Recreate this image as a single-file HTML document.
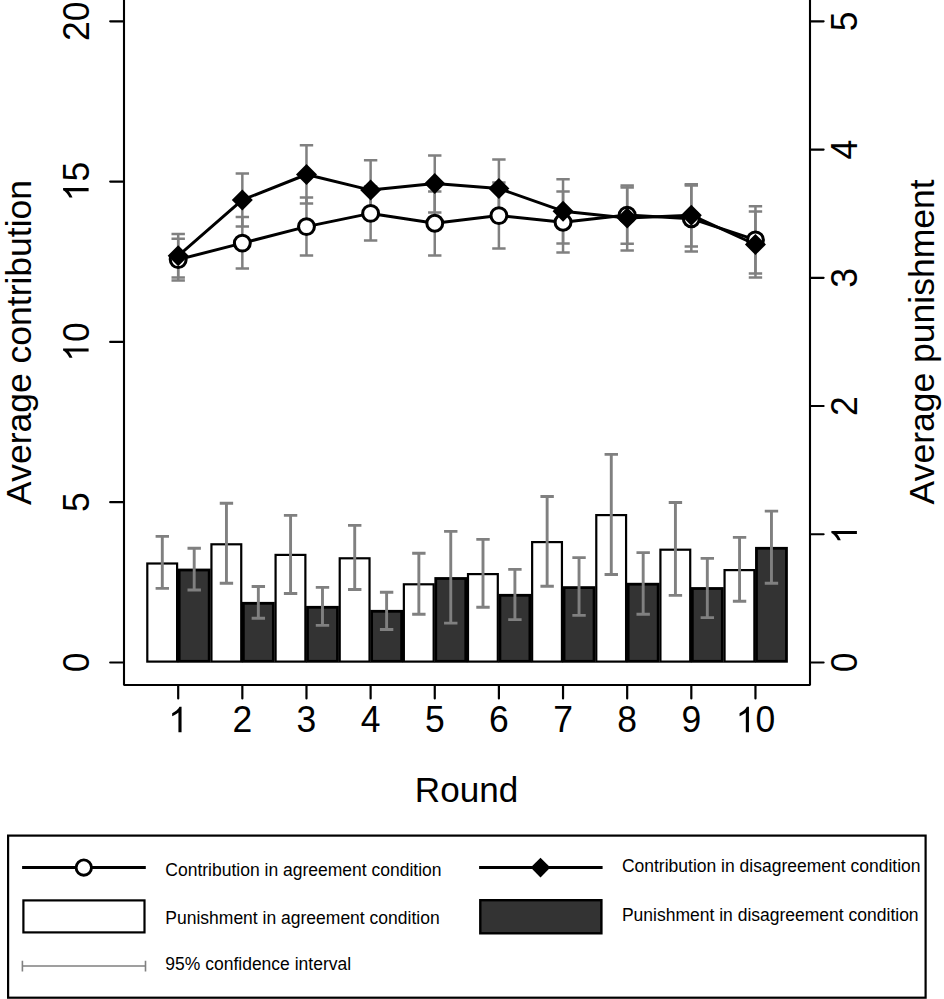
<!DOCTYPE html>
<html><head><meta charset="utf-8"><title>Chart</title>
<style>html,body{margin:0;padding:0;background:#fff;}svg{display:block;}text{font-family:"Liberation Sans",sans-serif;fill:#000;}</style></head><body>
<svg width="944" height="999" viewBox="0 0 944 999">
<rect x="0" y="0" width="944" height="999" fill="#fff"/>
<rect x="147.3" y="563.5" width="29.8" height="98.1" fill="#fff" stroke="#000" stroke-width="2.2"/>
<rect x="211.44" y="544.3" width="29.8" height="117.3" fill="#fff" stroke="#000" stroke-width="2.2"/>
<rect x="275.58" y="554.9" width="29.8" height="106.7" fill="#fff" stroke="#000" stroke-width="2.2"/>
<rect x="339.72" y="558.3" width="29.8" height="103.3" fill="#fff" stroke="#000" stroke-width="2.2"/>
<rect x="403.86" y="584.3" width="29.8" height="77.3" fill="#fff" stroke="#000" stroke-width="2.2"/>
<rect x="468" y="574.1" width="29.8" height="87.5" fill="#fff" stroke="#000" stroke-width="2.2"/>
<rect x="532.14" y="542.1" width="29.8" height="119.5" fill="#fff" stroke="#000" stroke-width="2.2"/>
<rect x="596.28" y="515.1" width="29.8" height="146.5" fill="#fff" stroke="#000" stroke-width="2.2"/>
<rect x="660.42" y="549.7" width="29.8" height="111.9" fill="#fff" stroke="#000" stroke-width="2.2"/>
<rect x="724.56" y="570.1" width="29.8" height="91.5" fill="#fff" stroke="#000" stroke-width="2.2"/>
<rect x="179.2" y="570" width="30" height="91.3" fill="#333333" stroke="#000" stroke-width="2.8"/>
<rect x="243.34" y="603.3" width="30" height="58" fill="#333333" stroke="#000" stroke-width="2.8"/>
<rect x="307.48" y="607.3" width="30" height="54" fill="#333333" stroke="#000" stroke-width="2.8"/>
<rect x="371.62" y="611.3" width="30" height="50" fill="#333333" stroke="#000" stroke-width="2.8"/>
<rect x="435.76" y="578.5" width="30" height="82.8" fill="#333333" stroke="#000" stroke-width="2.8"/>
<rect x="499.9" y="595.3" width="30" height="66" fill="#333333" stroke="#000" stroke-width="2.8"/>
<rect x="564.04" y="587.6" width="30" height="73.7" fill="#333333" stroke="#000" stroke-width="2.8"/>
<rect x="628.18" y="584.2" width="30" height="77.1" fill="#333333" stroke="#000" stroke-width="2.8"/>
<rect x="692.32" y="588.5" width="30" height="72.8" fill="#333333" stroke="#000" stroke-width="2.8"/>
<rect x="756.46" y="548.3" width="30" height="113" fill="#333333" stroke="#000" stroke-width="2.8"/>
<g>
<path d="M162.3 536.4V588.4M155.6 536.4H169M155.6 588.4H169" stroke="#808080" stroke-width="2.9" fill="none"/>
<path d="M194.2 548.3V590M187.5 548.3H200.9M187.5 590H200.9" stroke="#808080" stroke-width="2.9" fill="none"/>
<path d="M226.44 503.3V583.2M219.74 503.3H233.14M219.74 583.2H233.14" stroke="#808080" stroke-width="2.9" fill="none"/>
<path d="M258.34 586.5V618.2M251.64 586.5H265.04M251.64 618.2H265.04" stroke="#808080" stroke-width="2.9" fill="none"/>
<path d="M290.58 515.4V593.5M283.88 515.4H297.28M283.88 593.5H297.28" stroke="#808080" stroke-width="2.9" fill="none"/>
<path d="M322.48 587.4V625.4M315.78 587.4H329.18M315.78 625.4H329.18" stroke="#808080" stroke-width="2.9" fill="none"/>
<path d="M354.72 525.4V589.5M348.02 525.4H361.42M348.02 589.5H361.42" stroke="#808080" stroke-width="2.9" fill="none"/>
<path d="M386.62 592.3V629.5M379.92 592.3H393.32M379.92 629.5H393.32" stroke="#808080" stroke-width="2.9" fill="none"/>
<path d="M418.86 553.2V614.3M412.16 553.2H425.56M412.16 614.3H425.56" stroke="#808080" stroke-width="2.9" fill="none"/>
<path d="M450.76 531.4V623.1M444.06 531.4H457.46M444.06 623.1H457.46" stroke="#808080" stroke-width="2.9" fill="none"/>
<path d="M483 539.4V607.2M476.3 539.4H489.7M476.3 607.2H489.7" stroke="#808080" stroke-width="2.9" fill="none"/>
<path d="M514.9 569.4V619.6M508.2 569.4H521.6M508.2 619.6H521.6" stroke="#808080" stroke-width="2.9" fill="none"/>
<path d="M547.14 496.5V586.2M540.44 496.5H553.84M540.44 586.2H553.84" stroke="#808080" stroke-width="2.9" fill="none"/>
<path d="M579.04 557.6V615.4M572.34 557.6H585.74M572.34 615.4H585.74" stroke="#808080" stroke-width="2.9" fill="none"/>
<path d="M611.28 454.4V574.5M604.58 454.4H617.98M604.58 574.5H617.98" stroke="#808080" stroke-width="2.9" fill="none"/>
<path d="M643.18 552.6V614.3M636.48 552.6H649.88M636.48 614.3H649.88" stroke="#808080" stroke-width="2.9" fill="none"/>
<path d="M675.42 502.5V595.4M668.72 502.5H682.12M668.72 595.4H682.12" stroke="#808080" stroke-width="2.9" fill="none"/>
<path d="M707.32 558.4V617.6M700.62 558.4H714.02M700.62 617.6H714.02" stroke="#808080" stroke-width="2.9" fill="none"/>
<path d="M739.56 537.4V601.3M732.86 537.4H746.26M732.86 601.3H746.26" stroke="#808080" stroke-width="2.9" fill="none"/>
<path d="M771.46 511.1V583.3M764.76 511.1H778.16M764.76 583.3H778.16" stroke="#808080" stroke-width="2.9" fill="none"/>
</g>
<g>
<path d="M178.2 238.7V280.5M171.5 238.7H184.9M171.5 280.5H184.9" stroke="#808080" stroke-width="2.5" fill="none"/>
<path d="M178.2 233.9V277.6M171.5 233.9H184.9M171.5 277.6H184.9" stroke="#808080" stroke-width="2.5" fill="none"/>
<path d="M242.34 216.9V268.6M235.64 216.9H249.04M235.64 268.6H249.04" stroke="#808080" stroke-width="2.5" fill="none"/>
<path d="M242.34 173.4V226.4M235.64 173.4H249.04M235.64 226.4H249.04" stroke="#808080" stroke-width="2.5" fill="none"/>
<path d="M306.48 197.4V255.5M299.78 197.4H313.18M299.78 255.5H313.18" stroke="#808080" stroke-width="2.5" fill="none"/>
<path d="M306.48 145.3V203.5M299.78 145.3H313.18M299.78 203.5H313.18" stroke="#808080" stroke-width="2.5" fill="none"/>
<path d="M370.62 186.4V240.4M363.92 186.4H377.32M363.92 240.4H377.32" stroke="#808080" stroke-width="2.5" fill="none"/>
<path d="M370.62 160.3V218.3M363.92 160.3H377.32M363.92 218.3H377.32" stroke="#808080" stroke-width="2.5" fill="none"/>
<path d="M434.76 191.4V255.5M428.06 191.4H441.46M428.06 255.5H441.46" stroke="#808080" stroke-width="2.5" fill="none"/>
<path d="M434.76 155.4V212.4M428.06 155.4H441.46M428.06 212.4H441.46" stroke="#808080" stroke-width="2.5" fill="none"/>
<path d="M498.9 182.5V248.6M492.2 182.5H505.6M492.2 248.6H505.6" stroke="#808080" stroke-width="2.5" fill="none"/>
<path d="M498.9 159.5V216.9M492.2 159.5H505.6M492.2 216.9H505.6" stroke="#808080" stroke-width="2.5" fill="none"/>
<path d="M563.04 191.4V252.5M556.34 191.4H569.74M556.34 252.5H569.74" stroke="#808080" stroke-width="2.5" fill="none"/>
<path d="M563.04 179.3V243.5M556.34 179.3H569.74M556.34 243.5H569.74" stroke="#808080" stroke-width="2.5" fill="none"/>
<path d="M627.18 187.4V243.7M620.48 187.4H633.88M620.48 243.7H633.88" stroke="#808080" stroke-width="2.5" fill="none"/>
<path d="M627.18 185.4V250.4M620.48 185.4H633.88M620.48 250.4H633.88" stroke="#808080" stroke-width="2.5" fill="none"/>
<path d="M691.32 185.6V251.4M684.62 185.6H698.02M684.62 251.4H698.02" stroke="#808080" stroke-width="2.5" fill="none"/>
<path d="M691.32 184.2V246.5M684.62 184.2H698.02M684.62 246.5H698.02" stroke="#808080" stroke-width="2.5" fill="none"/>
<path d="M755.46 206.2V273.4M748.76 206.2H762.16M748.76 273.4H762.16" stroke="#808080" stroke-width="2.5" fill="none"/>
<path d="M755.46 211.4V277.4M748.76 211.4H762.16M748.76 277.4H762.16" stroke="#808080" stroke-width="2.5" fill="none"/>
</g>
<polyline points="178.2,259.6 242.34,243.1 306.48,226.6 370.62,213.4 434.76,223.2 498.9,215.6 563.04,222.2 627.18,215.1 691.32,218.7 755.46,239.9" fill="none" stroke="#000" stroke-width="3" stroke-linejoin="round"/>
<polyline points="178.2,255.8 242.34,199.9 306.48,174.5 370.62,190.1 434.76,183.6 498.9,188.5 563.04,211.2 627.18,218 691.32,215.2 755.46,244.5" fill="none" stroke="#000" stroke-width="3" stroke-linejoin="round"/>
<circle cx="178.2" cy="259.6" r="7.95" fill="#fff" stroke="#000" stroke-width="3.05"/>
<circle cx="242.34" cy="243.1" r="7.95" fill="#fff" stroke="#000" stroke-width="3.05"/>
<circle cx="306.48" cy="226.6" r="7.95" fill="#fff" stroke="#000" stroke-width="3.05"/>
<circle cx="370.62" cy="213.4" r="7.95" fill="#fff" stroke="#000" stroke-width="3.05"/>
<circle cx="434.76" cy="223.2" r="7.95" fill="#fff" stroke="#000" stroke-width="3.05"/>
<circle cx="498.9" cy="215.6" r="7.95" fill="#fff" stroke="#000" stroke-width="3.05"/>
<circle cx="563.04" cy="222.2" r="7.95" fill="#fff" stroke="#000" stroke-width="3.05"/>
<circle cx="627.18" cy="215.1" r="7.95" fill="#fff" stroke="#000" stroke-width="3.05"/>
<circle cx="691.32" cy="218.7" r="7.95" fill="#fff" stroke="#000" stroke-width="3.05"/>
<circle cx="755.46" cy="239.9" r="7.95" fill="#fff" stroke="#000" stroke-width="3.05"/>
<path d="M178.2 245.3L188.7 255.8L178.2 266.3L167.7 255.8Z" fill="#000"/>
<path d="M242.34 189.4L252.84 199.9L242.34 210.4L231.84 199.9Z" fill="#000"/>
<path d="M306.48 164L316.98 174.5L306.48 185L295.98 174.5Z" fill="#000"/>
<path d="M370.62 179.6L381.12 190.1L370.62 200.6L360.12 190.1Z" fill="#000"/>
<path d="M434.76 173.1L445.26 183.6L434.76 194.1L424.26 183.6Z" fill="#000"/>
<path d="M498.9 178L509.4 188.5L498.9 199L488.4 188.5Z" fill="#000"/>
<path d="M563.04 200.7L573.54 211.2L563.04 221.7L552.54 211.2Z" fill="#000"/>
<path d="M627.18 207.5L637.68 218L627.18 228.5L616.68 218Z" fill="#000"/>
<path d="M691.32 204.7L701.82 215.2L691.32 225.7L680.82 215.2Z" fill="#000"/>
<path d="M755.46 234L765.96 244.5L755.46 255L744.96 244.5Z" fill="#000"/>
<path d="M124 0V685H810V0" fill="none" stroke="#000" stroke-width="2.1" stroke-linejoin="bevel"/>
<path d="M110.2 662.5H124M110.2 502.2H124M110.2 341.9H124M110.2 181.6H124M110.2 21.3H124M810 662.5H823.6M810 534.26H823.6M810 406.02H823.6M810 277.78H823.6M810 149.54H823.6M810 21.3H823.6M178.2 685V698.4M242.34 685V698.4M306.48 685V698.4M370.62 685V698.4M434.76 685V698.4M498.9 685V698.4M563.04 685V698.4M627.18 685V698.4M691.32 685V698.4M755.46 685V698.4" stroke="#000" stroke-width="2.2" stroke-linecap="round" fill="none"/>
<g transform="translate(88.6 662.5) rotate(-90) scale(1 1.025)"><text x="-9.87" y="0" font-size="35.5">0</text></g>
<g transform="translate(88.6 502.2) rotate(-90) scale(1 1.025)"><text x="-9.87" y="0" font-size="35.5">5</text></g>
<g transform="translate(88.6 341.9) rotate(-90) scale(1 1.025)"><path d="M763 0H583V1147Q518 1085 412.5 1023T222 930V1104Q372 1175 484.5 1276T644 1472H763Z" transform="translate(-19.74 0) scale(0.01733 -0.01691)"/><text x="0" y="0" font-size="35.5">0</text></g>
<g transform="translate(88.6 181.6) rotate(-90) scale(1 1.025)"><path d="M763 0H583V1147Q518 1085 412.5 1023T222 930V1104Q372 1175 484.5 1276T644 1472H763Z" transform="translate(-19.74 0) scale(0.01733 -0.01691)"/><text x="0" y="0" font-size="35.5">5</text></g>
<g transform="translate(88.6 21.3) rotate(-90) scale(1 1.025)"><text x="-19.74" y="0" font-size="35.5">2</text><text x="0" y="0" font-size="35.5">0</text></g>
<g transform="translate(856.9 662.5) rotate(-90) scale(1 1.025)"><text x="-9.87" y="0" font-size="35.5">0</text></g>
<g transform="translate(856.9 534.26) rotate(-90) scale(1 1.025)"><path d="M763 0H583V1147Q518 1085 412.5 1023T222 930V1104Q372 1175 484.5 1276T644 1472H763Z" transform="translate(-9.87 0) scale(0.01733 -0.01691)"/></g>
<g transform="translate(856.9 406.02) rotate(-90) scale(1 1.025)"><text x="-9.87" y="0" font-size="35.5">2</text></g>
<g transform="translate(856.9 277.78) rotate(-90) scale(1 1.025)"><text x="-9.87" y="0" font-size="35.5">3</text></g>
<g transform="translate(856.9 149.54) rotate(-90) scale(1 1.025)"><text x="-9.87" y="0" font-size="35.5">4</text></g>
<g transform="translate(856.9 21.3) rotate(-90) scale(1 1.025)"><text x="-9.87" y="0" font-size="35.5">5</text></g>
<g transform="translate(178.2 732.3) scale(1 1.025)"><path d="M763 0H583V1147Q518 1085 412.5 1023T222 930V1104Q372 1175 484.5 1276T644 1472H763Z" transform="translate(-9.87 0) scale(0.01733 -0.01691)"/></g>
<g transform="translate(242.34 732.3) scale(1 1.025)"><text x="-9.87" y="0" font-size="35.5">2</text></g>
<g transform="translate(306.48 732.3) scale(1 1.025)"><text x="-9.87" y="0" font-size="35.5">3</text></g>
<g transform="translate(370.62 732.3) scale(1 1.025)"><text x="-9.87" y="0" font-size="35.5">4</text></g>
<g transform="translate(434.76 732.3) scale(1 1.025)"><text x="-9.87" y="0" font-size="35.5">5</text></g>
<g transform="translate(498.9 732.3) scale(1 1.025)"><text x="-9.87" y="0" font-size="35.5">6</text></g>
<g transform="translate(563.04 732.3) scale(1 1.025)"><text x="-9.87" y="0" font-size="35.5">7</text></g>
<g transform="translate(627.18 732.3) scale(1 1.025)"><text x="-9.87" y="0" font-size="35.5">8</text></g>
<g transform="translate(691.32 732.3) scale(1 1.025)"><text x="-9.87" y="0" font-size="35.5">9</text></g>
<g transform="translate(755.46 732.3) scale(1 1.025)"><path d="M763 0H583V1147Q518 1085 412.5 1023T222 930V1104Q372 1175 484.5 1276T644 1472H763Z" transform="translate(-19.74 0) scale(0.01733 -0.01691)"/><text x="0" y="0" font-size="35.5">0</text></g>
<text x="466.5" y="802" text-anchor="middle" font-size="35.1">Round</text>
<text transform="translate(30.7 342.4) rotate(-90)" text-anchor="middle" font-size="35.5">Average contribution</text>
<text transform="translate(934 341.9) rotate(-90)" text-anchor="middle" font-size="35.5">Average punishment</text>
<rect x="8.1" y="835.6" width="917.5" height="162.1" fill="none" stroke="#000" stroke-width="2.2"/>
<path d="M22.1 867.5H145.8" stroke="#000" stroke-width="3"/>
<circle cx="83.8" cy="867.6" r="7.7" fill="#fff" stroke="#000" stroke-width="2.9"/>
<rect x="23.4" y="900.4" width="121.1" height="32" fill="#fff" stroke="#000" stroke-width="2.2"/>
<path d="M22.4 966H145.5M22.4 960.7V971.4M145.5 960.7V971.4" stroke="#808080" stroke-width="1.6" fill="none"/>
<path d="M479.1 867.6H602.6" stroke="#000" stroke-width="3"/>
<path d="M540.5 857.8L550.3 867.6L540.5 877.4L530.7 867.6Z" fill="#000"/>
<rect x="480.3" y="900.2" width="121.1" height="33.1" fill="#333333" stroke="#000" stroke-width="2.4"/>
<text x="165.3" y="875.7" font-size="17.5">Contribution in agreement condition</text>
<text x="165.3" y="924.4" font-size="17.5">Punishment in agreement condition</text>
<text x="165.3" y="970.3" font-size="17.5">95% confidence interval</text>
<text x="621.9" y="871.5" font-size="17.5">Contribution in disagreement condition</text>
<text x="621.9" y="920.8" font-size="17.5">Punishment in disagreement condition</text>
</svg>
</body></html>
